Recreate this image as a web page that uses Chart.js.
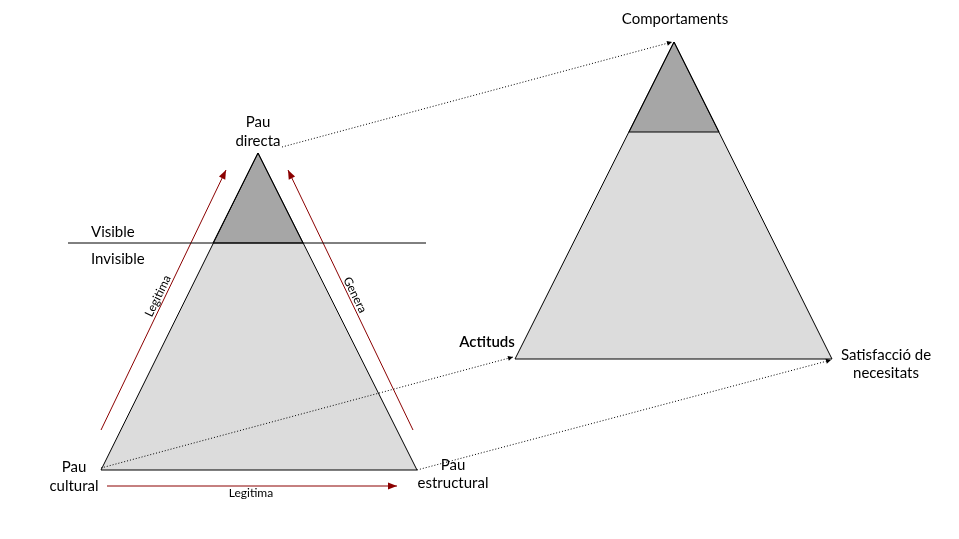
<!DOCTYPE html>
<html><head><meta charset="utf-8">
<script src="https://cdn.jsdelivr.net/npm/chart.js@4/dist/chart.umd.min.js"></script>
<style>html,body{margin:0;background:#fff}#wrap{width:959px;height:539px}</style>
</head><body><div id="wrap"><canvas id="c"></canvas></div>
<script>
// diagram geometry in picture units (x right, y down)
const leftTri = [{x:258,y:153},{x:101,y:470},{x:417,y:470},{x:258,y:153}];
const leftTop = [{x:258,y:153},{x:213,y:243},{x:303,y:243},{x:258,y:153}];
const rightTri = [{x:674,y:42},{x:515,y:359},{x:832,y:359},{x:674,y:42}];
const rightTop = [{x:674,y:42},{x:629,y:132},{x:719,y:132},{x:674,y:42}];
const visibleLine = [{x:68,y:243},{x:426,y:243}];
const dottedLinks = [
  [{x:282,y:147},{x:672,y:42}],
  [{x:101,y:468},{x:513,y:357}],
  [{x:417,y:470},{x:831,y:360}]
];
const redArrows = [
  [{x:101,y:430},{x:226,y:170}],
  [{x:413,y:430},{x:288,y:170}],
  [{x:107,y:486},{x:397,y:486}]
];
const labels = [
  {t:'Pau', x:258, y:122, a:'center'}, {t:'directa', x:258, y:141, a:'center'},
  {t:'Visible', x:91, y:232, a:'left'}, {t:'Invisible', x:91, y:259, a:'left'},
  {t:'Pau', x:74, y:467, a:'center'}, {t:'cultural', x:74, y:486, a:'center'},
  {t:'Pau', x:453, y:465, a:'center'}, {t:'estructural', x:453, y:483, a:'center'},
  {t:'Comportaments', x:675, y:19, a:'center'},
  {t:'Actituds', x:487, y:342, a:'center'},
  {t:'Satisfacció de', x:886, y:355, a:'center'}, {t:'necesitats', x:886, y:373, a:'center'}
];
const smallLabels = [
  {t:'Legitima', x:158, y:296, r:-64},
  {t:'Genera', x:355, y:295, r:64},
  {t:'Legitima', x:251, y:493, r:0}
];

const datasets = [
  {data:leftTri, borderColor:'#000', borderWidth:1, shade:'#dcdcdc'},
  {data:leftTop, borderColor:'#000', borderWidth:1, shade:'#a6a6a6'},
  {data:rightTri, borderColor:'#000', borderWidth:1, shade:'#dcdcdc'},
  {data:rightTop, borderColor:'#000', borderWidth:1, shade:'#a6a6a6'},
  {data:visibleLine, borderColor:'#000', borderWidth:1}
];
dottedLinks.forEach(d => datasets.push({data:d, borderColor:'#000', borderWidth:1, borderDash:[1,2], arrow:'#000'}));
redArrows.forEach(d => datasets.push({data:d, borderColor:'#8b0000', borderWidth:1, arrow:'#8b0000'}));
datasets.forEach(d => { d.showLine = true; d.pointRadius = 0; d.tension = 0; d.fill = false; });

const decor = {
  id:'decor',
  beforeDatasetsDraw(chart) {
    const {ctx, scales:{x, y}} = chart;
    ctx.save();
    chart.data.datasets.forEach(ds => {
      if (!ds.shade) return;
      ctx.fillStyle = ds.shade;
      ctx.beginPath();
      ds.data.forEach((p, i) => {
        const px = x.getPixelForValue(p.x), py = y.getPixelForValue(p.y);
        i ? ctx.lineTo(px, py) : ctx.moveTo(px, py);
      });
      ctx.closePath();
      ctx.fill();
    });
    ctx.restore();
  },
  afterDatasetsDraw(chart) {
    const {ctx, scales:{x, y}} = chart;
    ctx.save();
    chart.data.datasets.forEach(ds => {
      if (!ds.arrow) return;
      const p = ds.data[ds.data.length-2], q = ds.data[ds.data.length-1];
      const x1 = x.getPixelForValue(q.x), y1 = y.getPixelForValue(q.y);
      const ang = Math.atan2(y1 - y.getPixelForValue(p.y), x1 - x.getPixelForValue(p.x));
      const L = ds.arrow === '#000' ? 5 : 9, W = ds.arrow === '#000' ? 2.5 : 3.5;
      ctx.fillStyle = ds.arrow;
      ctx.beginPath();
      ctx.moveTo(x1, y1);
      ctx.lineTo(x1 - L*Math.cos(ang) + W*Math.sin(ang), y1 - L*Math.sin(ang) - W*Math.cos(ang));
      ctx.lineTo(x1 - L*Math.cos(ang) - W*Math.sin(ang), y1 - L*Math.sin(ang) + W*Math.cos(ang));
      ctx.closePath();
      ctx.fill();
    });
    ctx.fillStyle = '#000';
    ctx.textBaseline = 'middle';
    labels.forEach(l => {
      ctx.textAlign = l.a;
      ctx.font = (l.t === 'Actituds' ? '600 ' : '') + '15px Lato, "Open Sans", sans-serif';
      ctx.fillText(l.t, x.getPixelForValue(l.x), y.getPixelForValue(l.y));
    });
    ctx.font = '12px Lato, "Open Sans", sans-serif';
    ctx.textAlign = 'center';
    smallLabels.forEach(l => {
      ctx.save();
      ctx.translate(x.getPixelForValue(l.x), y.getPixelForValue(l.y));
      ctx.rotate(l.r * Math.PI / 180);
      ctx.fillText(l.t, 0, 0);
      ctx.restore();
    });
    ctx.restore();
  }
};

new Chart(document.getElementById('c'), {
  type:'scatter',
  data:{datasets},
  options:{
    responsive:true, maintainAspectRatio:false, animation:false,
    layout:{padding:0},
    scales:{
      x:{type:'linear', min:0, max:959, display:false},
      y:{type:'linear', min:0, max:539, reverse:true, display:false}
    },
    plugins:{legend:{display:false}, tooltip:{enabled:false}}
  },
  plugins:[decor]
});
</script></body></html>
